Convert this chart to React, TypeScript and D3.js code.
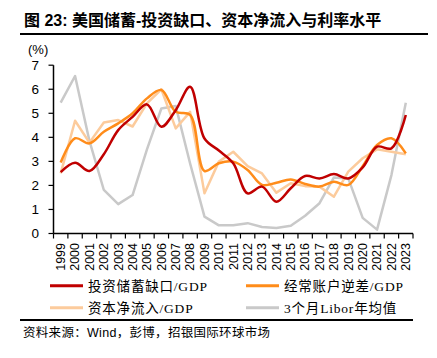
import React from "react";
import * as d3 from "d3";

const years = ["1999","2000","2001","2002","2003","2004","2005","2006","2007","2008","2009","2010","2011","2012","2013","2014","2015","2016","2017","2018","2019","2020","2021","2022","2023"];
const gapSeries = [2.55,2.94,2.6,3.3,4.3,4.85,5.37,4.44,5.13,6.1,3.95,3.45,2.92,1.67,1.95,1.32,1.88,2.39,2.29,2.47,2.29,2.75,3.61,3.54,4.93];
const caDeficit = [2.95,3.96,3.75,4.23,4.58,5.0,5.62,5.97,5.06,4.93,2.6,2.92,2.99,2.64,2.02,2.11,2.25,2.06,1.95,2.15,2.02,2.8,3.68,3.96,3.33];
const capInflow = [2.5,4.69,3.78,4.62,4.72,4.45,5.41,6.0,4.37,5.06,1.67,2.99,3.4,2.8,2.5,1.7,2.09,1.97,1.95,1.53,2.57,3.13,3.5,3.4,3.3];
const libor = [5.44,6.55,3.85,1.81,1.22,1.6,3.5,5.2,5.3,2.91,0.7,0.34,0.34,0.43,0.27,0.23,0.32,0.74,1.26,2.33,2.29,0.65,0.16,2.43,5.44];
const yTicks = [0,1,2,3,4,5,6,7];
const seriesNames = ["投资储蓄缺口/GDP","经常账户逆差/GDP","资本净流入/GDP","3个月Libor年均值"];
const colors = ["#C00000","#FF8C1A","#FCCB9C","#C9C9C9"];

const title = "图 23: 美国储蓄-投资缺口、资本净流入与利率水平";
const source = "资料来源：Wind，彭博，招银国际环球市场";

export default function App() {
  const W = 437, H = 358;
  const x0 = 53.5, x1 = 413;
  const y0 = 233.5, y1 = 65.2;
  const x = d3.scaleBand<string>().domain(years).range([x0, x1]);
  const y = d3.scaleLinear().domain([0, 7]).range([y0, y1]);
  const cx = (i: number) => (x(years[i]) as number) + x.bandwidth() / 2;
  const smooth = d3.line<number>().x((_, i) => cx(i)).y(d => y(d)).curve(d3.curveCatmullRom.alpha(0.5));
  const straight = d3.line<number>().x((_, i) => cx(i)).y(d => y(d));
  const data = [gapSeries, caDeficit, capInflow, libor];
  const gens = [smooth, smooth, straight, straight];
  const sans = "'Liberation Sans', Arial, 'Noto Sans CJK SC', sans-serif";
  const cjk = "'Liberation Serif', 'Noto Sans CJK SC', serif";
  const boundaries = years.map(yr => x(yr) as number).concat([x1]);
  const legendPos = [[50, 285.7], [246, 285.7], [50, 307.7], [246, 307.7]];
  return (
    <svg width={W} height={H} style={{ position: "absolute", left: 0, top: 0 }}>
      <rect width={W} height={H} fill="#fff" />
      <text x={24} y={26} fontFamily={sans} fontWeight="bold" fontSize={16} fill="#000">{title}</text>
      <line x1={20} x2={428} y1={34} y2={34} stroke="#000" strokeWidth={2.2} />
      <text x={28} y={54} fontFamily={sans} fontSize={13} fill="#000">(%)</text>
      {yTicks.map(t => (
        <g key={t}>
          <line x1={x0 - 5} x2={x0} y1={y(t)} y2={y(t)} stroke="#000" strokeWidth={1.2} />
          <text x={39} y={y(t)} dy="0.36em" textAnchor="end" fontFamily={sans} fontSize={13.5} fill="#000">{t}</text>
        </g>
      ))}
      <line x1={x0} x2={x0} y1={y1} y2={y0} stroke="#000" strokeWidth={1.5} />
      <line x1={x0} x2={x1} y1={y0} y2={y0} stroke="#000" strokeWidth={1.5} />
      {boundaries.map((b, i) => (
        <line key={i} x1={b} x2={b} y1={y0} y2={y0 + 5} stroke="#000" strokeWidth={1.2} />
      ))}
      {years.map((yr, i) => (
        <text key={yr} transform={`translate(${cx(i) + 4.3},243) rotate(-90)`} textAnchor="end" fontFamily={sans} fontSize={12.5} fill="#000">{yr}</text>
      ))}
      {[3, 2, 1, 0].map(k => (
        <path key={k} d={gens[k](data[k]) || ""} fill="none" stroke={colors[k]} strokeWidth={2.5} strokeLinejoin="round" />
      ))}
      {seriesNames.map((n, k) => (
        <g key={n}>
          <line x1={legendPos[k][0]} x2={legendPos[k][0] + 33} y1={legendPos[k][1]} y2={legendPos[k][1]} stroke={colors[k]} strokeWidth={3} />
          <text x={legendPos[k][0] + 38} y={legendPos[k][1]} dy="0.36em" fontFamily={cjk} fontSize={13.5} letterSpacing={0.8} fill="#000">{n}</text>
        </g>
      ))}
      <line x1={20} x2={413} y1={320} y2={320} stroke="#000" strokeWidth={2} />
      <text x={23} y={332} dy="0.36em" fontFamily={sans} fontSize={12.5} letterSpacing={0.3} fill="#000">{source}</text>
    </svg>
  );
}
